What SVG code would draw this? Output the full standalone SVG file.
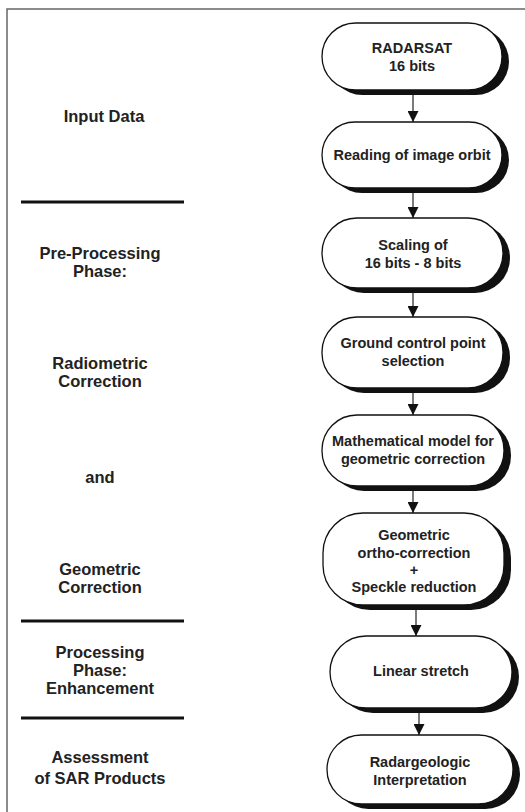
<svg xmlns="http://www.w3.org/2000/svg" width="525" height="812" viewBox="0 0 525 812">
<defs>
<style>
.frame{fill:none;stroke:#666;stroke-width:1.5}
.sep{stroke:#111;stroke-width:3}
.shadow{fill:#111}
.box{fill:#fff;stroke:#111;stroke-width:1.3}
.t{font-family:"Liberation Sans",Arial,sans-serif;font-weight:bold;font-size:14.5px;fill:#222;text-anchor:middle}
.lbl{font-family:"Liberation Sans",Arial,sans-serif;font-weight:bold;font-size:16.5px;fill:#222;text-anchor:middle}
.conn{stroke:#333;stroke-width:1.3;fill:none}
</style>
<marker id="ah" viewBox="0 0 10 10" refX="10" refY="5" markerWidth="11" markerHeight="11" markerUnits="userSpaceOnUse" orient="auto">
<path d="M0,0 L10,5 L0,10 Z" fill="#111"/>
</marker>
</defs>
<rect width="525" height="812" fill="#fff"/>
<g id="frame">
<path class="frame" d="M7,812 L7,9 L525,9"/>
<line class="sep" x1="21" y1="202" x2="184" y2="202"/>
<line class="sep" x1="21" y1="621" x2="184" y2="621"/>
<line class="sep" x1="21" y1="718" x2="184" y2="718"/>
</g>
<g id="labels">
<text class="lbl" x="104" y="122">Input Data</text>
<text class="lbl" x="100" y="259">Pre-Processing</text>
<text class="lbl" x="100" y="277">Phase:</text>
<text class="lbl" x="100" y="369">Radiometric</text>
<text class="lbl" x="100" y="387">Correction</text>
<text class="lbl" x="100" y="483">and</text>
<text class="lbl" x="100" y="575">Geometric</text>
<text class="lbl" x="100" y="593">Correction</text>
<text class="lbl" x="100" y="658">Processing</text>
<text class="lbl" x="100" y="676">Phase:</text>
<text class="lbl" x="100" y="694">Enhancement</text>
<text class="lbl" x="100" y="763">Assessment</text>
<text class="lbl" x="100" y="784">of SAR Products</text>
</g>
<g id="connectors">
<line class="conn" x1="413" y1="95" x2="413" y2="122" marker-end="url(#ah)"/>
<line class="conn" x1="413" y1="193" x2="413" y2="218" marker-end="url(#ah)"/>
<line class="conn" x1="413" y1="293" x2="413" y2="317" marker-end="url(#ah)"/>
<line class="conn" x1="413" y1="393" x2="413" y2="415" marker-end="url(#ah)"/>
<line class="conn" x1="413" y1="491" x2="413" y2="513" marker-end="url(#ah)"/>
<line class="conn" x1="416" y1="610" x2="416" y2="636" marker-end="url(#ah)"/>
<line class="conn" x1="419" y1="713" x2="419" y2="735" marker-end="url(#ah)"/>
</g>
<g id="n1">
<rect class="shadow" x="329" y="28" width="180" height="67" rx="33.5"/>
<rect class="box" x="322" y="23" width="180" height="67" rx="33.5"/>
<text class="t" x="412" y="53">RADARSAT</text>
<text class="t" x="412" y="71">16 bits</text>
</g>
<g id="n2">
<rect class="shadow" x="329" y="127" width="180" height="66" rx="33"/>
<rect class="box" x="322" y="122" width="180" height="66" rx="33"/>
<text class="t" x="412" y="160">Reading of image orbit</text>
</g>
<g id="n3">
<rect class="shadow" x="329" y="223" width="181" height="70" rx="35"/>
<rect class="box" x="322" y="218" width="181" height="70" rx="35"/>
<text class="t" x="413" y="250">Scaling of</text>
<text class="t" x="413" y="268">16 bits - 8 bits</text>
</g>
<g id="n4">
<rect class="shadow" x="329" y="322" width="181" height="71" rx="35"/>
<rect class="box" x="322" y="317" width="181" height="71" rx="35"/>
<text class="t" x="413" y="348">Ground control point</text>
<text class="t" x="413" y="366">selection</text>
</g>
<g id="n5">
<rect class="shadow" x="329" y="420" width="182" height="71" rx="35"/>
<rect class="box" x="322" y="415" width="182" height="71" rx="35"/>
<text class="t" x="413" y="446">Mathematical model for</text>
<text class="t" x="413" y="464">geometric correction</text>
</g>
<g id="n6">
<rect class="shadow" x="330" y="518" width="181" height="92" rx="40"/>
<rect class="box" x="323" y="513" width="181" height="92" rx="40"/>
<text class="t" x="414" y="540">Geometric</text>
<text class="t" x="414" y="558">ortho-correction</text>
<text class="t" x="414" y="575">+</text>
<text class="t" x="414" y="592">Speckle reduction</text>
</g>
<g id="n7">
<rect class="shadow" x="337" y="641" width="182" height="72" rx="36"/>
<rect class="box" x="330" y="636" width="182" height="72" rx="36"/>
<text class="t" x="421" y="676">Linear stretch</text>
</g>
<g id="n8">
<rect class="shadow" x="334" y="740" width="186" height="69" rx="34.5"/>
<rect class="box" x="327" y="735" width="186" height="69" rx="34.5"/>
<text class="t" x="420" y="767">Radargeologic</text>
<text class="t" x="420" y="785">Interpretation</text>
</g>
</svg>
